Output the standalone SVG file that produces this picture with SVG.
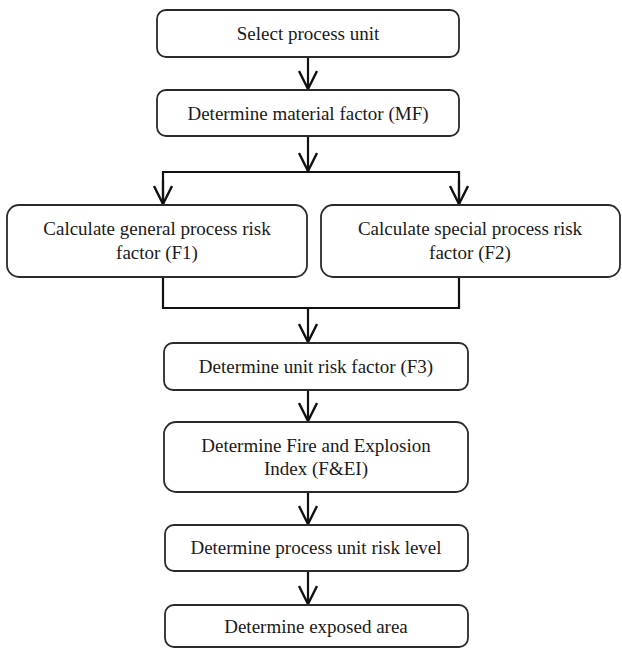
<svg xmlns="http://www.w3.org/2000/svg" width="622" height="648" viewBox="0 0 622 648">
<defs>
<style>
.box{fill:#fff;stroke:#2a2a2a;stroke-width:1.8}
.t{font-family:"Liberation Serif","Times New Roman",serif;font-size:19px;fill:#1a1a1a;text-anchor:middle}
.c{fill:none;stroke:#111;stroke-width:2.2}
</style>
<marker id="ah" viewBox="0 0 20 20" refX="19" refY="10" markerWidth="20" markerHeight="20" markerUnits="userSpaceOnUse" orient="auto">
<path d="M1,1 L19,10 L1,19" fill="none" stroke="#111" stroke-width="2.4"/>
</marker>
</defs>
<rect width="622" height="648" fill="#fff"/>
<g id="connectors">
<line class="c" x1="308" y1="57" x2="308" y2="89" marker-end="url(#ah)"/>
<line class="c" x1="308" y1="136" x2="308" y2="171" marker-end="url(#ah)"/>
<polyline class="c" points="163,204 163,172 459,172 459,204"/>
<line class="c" x1="163" y1="180" x2="163" y2="204" marker-end="url(#ah)"/>
<line class="c" x1="459" y1="180" x2="459" y2="204" marker-end="url(#ah)"/>
<polyline class="c" points="163,277 163,308 459,308 459,277"/>
<line class="c" x1="308" y1="308" x2="308" y2="342" marker-end="url(#ah)"/>
<line class="c" x1="308" y1="390" x2="308" y2="421" marker-end="url(#ah)"/>
<line class="c" x1="308" y1="492" x2="308" y2="524" marker-end="url(#ah)"/>
<line class="c" x1="308" y1="571" x2="308" y2="604" marker-end="url(#ah)"/>
</g>
<g id="n1"><rect class="box" x="157" y="10" width="302" height="47" rx="9"/><text class="t" x="308" y="40">Select process unit</text></g>
<g id="n2"><rect class="box" x="157" y="90" width="302" height="46" rx="9"/><text class="t" x="308" y="120">Determine material factor (MF)</text></g>
<g id="n3"><rect class="box" x="7" y="205" width="300" height="72" rx="12"/><text class="t" x="157" y="235">Calculate general process risk</text><text class="t" x="157" y="259">factor (F1)</text></g>
<g id="n4"><rect class="box" x="321" y="205" width="299" height="72" rx="12"/><text class="t" x="470" y="235">Calculate special process risk</text><text class="t" x="470" y="259">factor (F2)</text></g>
<g id="n5"><rect class="box" x="164" y="343" width="304" height="47" rx="9"/><text class="t" x="316" y="373">Determine unit risk factor (F3)</text></g>
<g id="n6"><rect class="box" x="164" y="422" width="304" height="70" rx="12"/><text class="t" x="316" y="452">Determine Fire and Explosion</text><text class="t" x="316" y="475">Index (F&amp;EI)</text></g>
<g id="n7"><rect class="box" x="165" y="525" width="303" height="46" rx="9"/><text class="t" x="316" y="554">Determine process unit risk level</text></g>
<g id="n8"><rect class="box" x="165" y="605" width="303" height="42" rx="9"/><text class="t" x="316" y="633">Determine exposed area</text></g>
</svg>
